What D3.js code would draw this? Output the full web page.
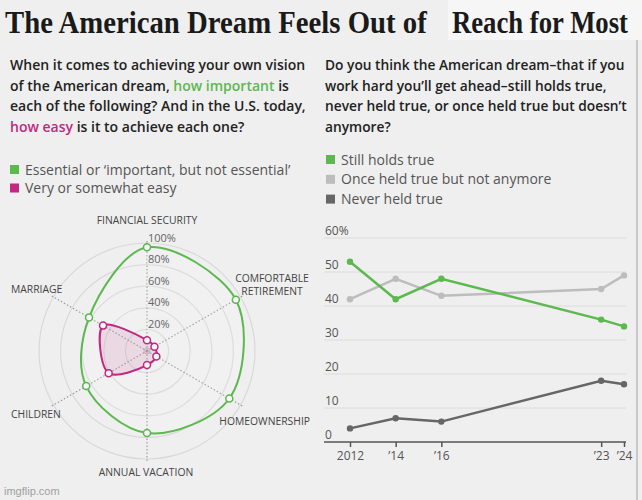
<!DOCTYPE html>
<html>
<head>
<meta charset="utf-8">
<script src="https://d3js.org/d3.v7.min.js"></script>
<style>
  body { margin: 0; background: #efefef; }
  text { font-family: "Open Sans", "Noto Sans", sans-serif; }
</style>
</head>
<body>
<svg id="chart"></svg>
<script>
// radar data (percent)
var radarAxes = ["FINANCIAL SECURITY", "COMFORTABLE RETIREMENT", "HOMEOWNERSHIP", "ANNUAL VACATION", "CHILDREN", "MARRIAGE"];
var important = [96, 95, 88, 76, 65, 62];
var easy = [10, 8, 10, 13, 41, 47];
var ringTicks = [20, 40, 60, 80, 100];

// line chart data (percent)
var years = [2012, 2014, 2016, 2023, 2024];
var yearLabels = ["2012", "\u201914", "\u201916", "\u201923", "\u201924"];
var stillHolds = [53, 42, 48, 36, 34];
var onceHeld = [42, 48, 43, 45, 49];
var neverHeld = [4, 7, 6, 18, 17];
var yTicks = [0, 10, 20, 30, 40, 50, 60];

var W = 642, H = 500;
var green = "#5cb84f", pink = "#c0297f", lightGray = "#bdbdbd", darkGray = "#666";

var svg = d3.select("#chart").attr("width", W).attr("height", H);
svg.append("rect").attr("width", W).attr("height", H).attr("fill", "#efefef");

// squeeze a text horizontally by factor s, anchored at ax
function squeeze(t, s, ax) {
  t.attr("transform", "translate(" + ax + ",0) scale(" + s + ",1) translate(" + (-ax) + ",0)");
}

// title (second half sits on a slightly lighter strip)
svg.append("rect").attr("x", 448).attr("y", 0).attr("width", W - 448).attr("height", 40).attr("fill", "#f6f6f6");
var t1 = svg.append("text").attr("x", 5).attr("y", 33)
   .style("font-family", "'Liberation Serif', 'DejaVu Serif', serif")
   .style("font-weight", "bold").style("font-size", "32px").attr("fill", "#1a1a1a")
   .text("The American Dream Feels Out of");
squeeze(t1, 422 / t1.node().getComputedTextLength(), 5);
var t2 = svg.append("text").attr("x", 452).attr("y", 33)
   .style("font-family", "'Liberation Serif', 'DejaVu Serif', serif")
   .style("font-weight", "bold").style("font-size", "32px").attr("fill", "#1a1a1a")
   .text("Reach for Most");
squeeze(t2, 176 / t2.node().getComputedTextLength(), 452);
svg.append("line").attr("x1", 637).attr("x2", 637).attr("y1", 40).attr("y2", H)
   .attr("stroke", "#c9c9c9").attr("stroke-width", 2);

// question texts
function question(x, size, lines) {
  lines.forEach(function(parts, i) {
    var t = svg.append("text").attr("x", x).attr("y", 70 + i * 20.5)
       .style("font-size", size + "px").style("font-weight", 600).attr("fill", "#222");
    parts.forEach(function(p) {
      t.append("tspan").attr("fill", p[1] || "#222").text(p[0]);
    });
  });
}
question(10, 14, [
  [["When it comes to achieving your own vision"]],
  [["of the American dream, "], ["how important", green], [" is"]],
  [["each of the following? And in the U.S. today,"]],
  [["how easy", pink], [" is it to achieve each one?"]]
]);
question(325, 13.75, [
  [["Do you think the American dream\u2013that if you"]],
  [["work hard you\u2019ll get ahead\u2013still holds true,"]],
  [["never held true, or once held true but doesn\u2019t"]],
  [["anymore?"]]
]);

function legend(x, y0, step, items) {
  items.forEach(function(it, i) {
    var y = y0 + i * step;
    svg.append("rect").attr("x", x).attr("y", y - 4.5).attr("width", 9).attr("height", 9).attr("fill", it[1]);
    svg.append("text").attr("x", x + 15).attr("y", y + 5)
       .style("font-size", "14px").attr("fill", "#555").text(it[0]);
  });
}
legend(10, 169.5, 18.5, [["Essential or \u2018important, but not essential\u2019", green], ["Very or somewhat easy", pink]]);
legend(326, 159.5, 19.8, [["Still holds true", green], ["Once held true but not anymore", lightGray], ["Never held true", darkGray]]);

// ---------- radar ----------
var cx = 147, cy = 351;
var r = d3.scaleLinear().domain([0, 100]).range([0, 108]);
var angle = d3.scaleLinear().domain([0, radarAxes.length]).range([0, 2 * Math.PI]);
var radar = svg.append("g").attr("transform", "translate(" + cx + "," + cy + ")");

radar.selectAll(".ring").data(ringTicks).enter().append("circle")
   .attr("r", function(d) { return r(d); })
   .attr("fill", "none").attr("stroke", "#d9d9d9").attr("stroke-width", 1.2);
radar.append("circle").attr("r", 3).attr("fill", "#ddd").attr("stroke", "#bbb");

radar.selectAll(".spoke").data(radarAxes).enter().append("line")
   .attr("x1", 0).attr("y1", 0)
   .attr("x2", function(d, i) { return Math.sin(angle(i)) * 110; })
   .attr("y2", function(d, i) { return -Math.cos(angle(i)) * 110; })
   .attr("stroke", "#999").attr("stroke-width", 1.2).attr("stroke-dasharray", "1.5,2");

var radial = d3.lineRadial()
   .angle(function(d, i) { return angle(i); })
   .radius(function(d) { return r(d); })
   .curve(d3.curveCatmullRomClosed.alpha(0.5));

function radarSeries(vals, color, fill) {
  radar.append("path").attr("d", radial(vals))
     .attr("fill", fill).attr("stroke", color).attr("stroke-width", 2);
  radar.selectAll(null).data(vals).enter().append("circle")
     .attr("cx", function(d, i) { return Math.sin(angle(i)) * r(d); })
     .attr("cy", function(d, i) { return -Math.cos(angle(i)) * r(d); })
     .attr("r", 3.5).attr("fill", "#f7f7f7").attr("stroke", color).attr("stroke-width", 1.5);
}
radarSeries(important, green, "rgba(255,255,255,0.12)");
radarSeries(easy, pink, "rgba(192,41,127,0.12)");

radar.selectAll(".ringlab").data(ringTicks).enter().append("text")
   .attr("x", 1).attr("y", function(d) { return -r(d) - 1.5; })
   .style("font-size", "11px").attr("fill", "#666")
   .attr("stroke", "#efefef").attr("stroke-width", 3).attr("paint-order", "stroke")
   .text(function(d) { return d + "%"; });

// axis labels: [x, y, anchor]
var labelPos = [
  [147, 224, "middle"], [272, 282, "middle"], [310, 425, "end"],
  [146, 476, "middle"], [11, 418.5, "start"], [11, 293.5, "start"]
];
radarAxes.forEach(function(name, i) {
  var p = labelPos[i];
  var words = name === "COMFORTABLE RETIREMENT" ? ["COMFORTABLE", "RETIREMENT"] : [name];
  var t = svg.append("text").attr("x", p[0]).attr("y", p[1])
     .attr("text-anchor", p[2]).style("font-size", "11.5px").attr("fill", "#444");
  words.forEach(function(w, j) {
    t.append("tspan").attr("x", p[0]).attr("dy", j ? 12.8 : 0).text(w);
  });
  squeeze(t, 0.9, p[0]);
});

// ---------- line chart ----------
var x = d3.scaleLinear().domain([2012, 2024]).range([350, 624]);
var y = d3.scaleLinear().domain([0, 60]).range([442, 238]);

svg.selectAll(".grid").data(yTicks.slice(1)).enter().append("line")
   .attr("x1", 324).attr("x2", 626)
   .attr("y1", function(d) { return y(d); }).attr("y2", function(d) { return y(d); })
   .attr("stroke", "#dcdcdc").attr("stroke-width", 1);

svg.selectAll(".ylab").data(yTicks).enter().append("text")
   .attr("x", 325).attr("y", function(d) { return y(d) - 3.5; })
   .style("font-size", "12px").attr("fill", "#555")
   .attr("stroke", "#efefef").attr("stroke-width", 4).attr("paint-order", "stroke")
   .text(function(d) { return d === 60 ? "60%" : d; });

var xAxis = d3.axisBottom(x).tickValues(years)
   .tickFormat(function(d, i) { return yearLabels[i]; })
   .tickSize(5).tickSizeOuter(0);
var ax = svg.append("g").attr("transform", "translate(0," + y(0) + ")").call(xAxis);
ax.select(".domain").remove();
ax.append("line").attr("x1", 324).attr("x2", 626).attr("stroke", "#555").attr("stroke-width", 1.5);
ax.selectAll(".tick line").attr("stroke", "#555").attr("stroke-width", 1.5);
ax.selectAll(".tick text").attr("y", 9).style("font-size", "12px")
   .style("font-family", "'Open Sans', sans-serif").attr("fill", "#555");

var line = d3.line().x(function(d, i) { return x(years[i]); }).y(function(d) { return y(d); });
[[onceHeld, lightGray], [neverHeld, darkGray], [stillHolds, green]].forEach(function(s) {
  svg.append("path").attr("d", line(s[0])).attr("fill", "none")
     .attr("stroke", s[1]).attr("stroke-width", 2.5);
  svg.selectAll(null).data(s[0]).enter().append("circle")
     .attr("cx", function(d, i) { return x(years[i]); })
     .attr("cy", function(d) { return y(d); })
     .attr("r", 3.2).attr("fill", s[1]);
});

svg.append("text").attr("x", 4).attr("y", 495)
   .style("font-family", "'Liberation Sans', sans-serif")
   .style("font-size", "11px").attr("fill", "#a0a0a0").text("imgflip.com");
</script>
</body>
</html>
